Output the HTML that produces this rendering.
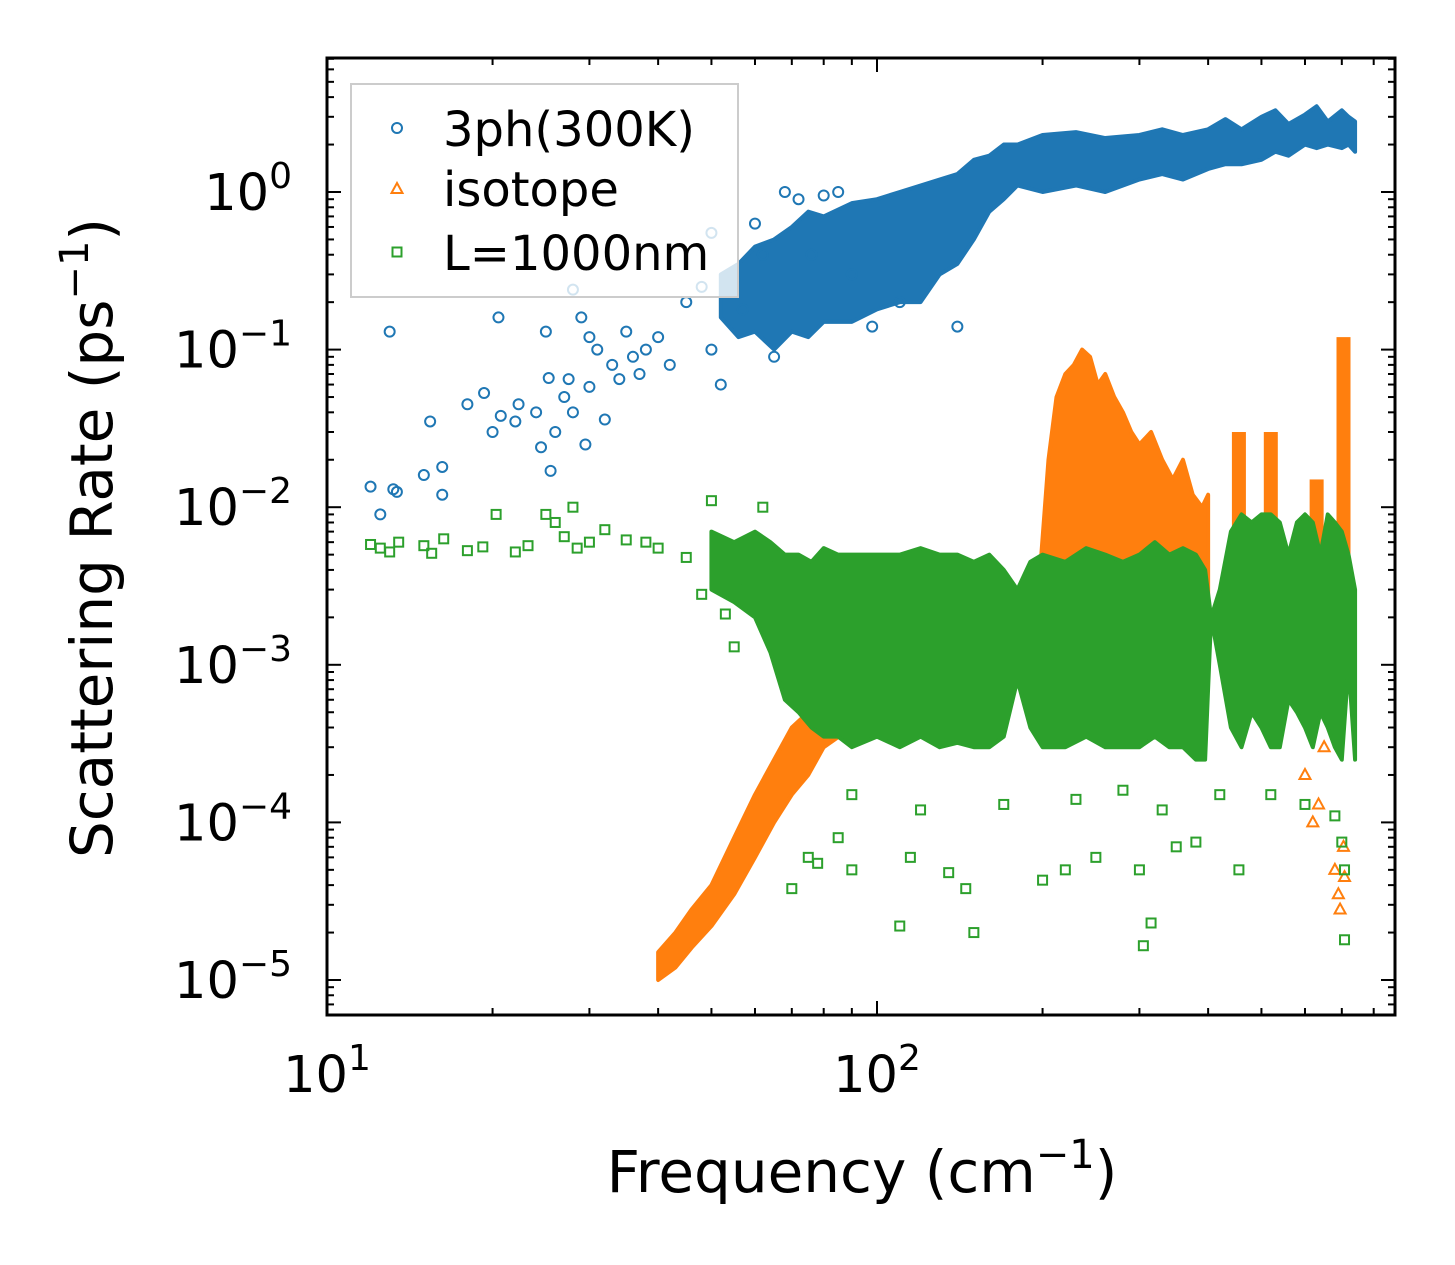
<!DOCTYPE html>
<html><head><meta charset="utf-8"><style>
body{margin:0;background:#fff}
svg text{font-family:"DejaVu Sans","Liberation Sans",sans-serif;fill:#000}
</style></head><body>
<svg id="chart" width="1455" height="1265" viewBox="0 0 1455 1265" xmlns="http://www.w3.org/2000/svg" style="position:absolute;left:0;top:0">
<rect width="1455" height="1265" fill="#fff"/>
<g id="plot"></g>
<g id="axes"></g>
</svg>
<script>
// ---- data ----
const blueSparseF=[12,12.5,13,13.2,13.4,15,15.4,16.2,16.2,18,19.3,20,20.5,20.7,22,22.3,24,24.5,25,25.3,25.5,26,27,27.5,28,28,29,29.5,30,30,31,32,33,34,35,36,37,38,40,42,45,48,50,50,52,55,57,60,62,65,68,72,76,80,85,90,98,110,140];
const blueSparseV=[0.0135,0.009,0.13,0.013,0.0125,0.016,0.035,0.012,0.018,0.045,0.053,0.03,0.16,0.038,0.035,0.045,0.04,0.024,0.13,0.066,0.017,0.03,0.05,0.065,0.24,0.04,0.16,0.025,0.058,0.12,0.1,0.036,0.08,0.065,0.13,0.09,0.07,0.1,0.12,0.08,0.2,0.25,0.55,0.1,0.06,0.28,0.18,0.63,0.4,0.09,1.0,0.9,0.4,0.95,1.0,0.3,0.14,0.2,0.14];
const blueEnvF=[52,56,60,65,70,75,80,90,100,110,120,130,140,150,160,170,180,200,230,260,300,330,360,400,430,460,500,530,560,600,630,660,700,720,740];
const blueLo=[0.16,0.12,0.13,0.1,0.13,0.12,0.15,0.15,0.18,0.2,0.2,0.3,0.35,0.5,0.75,0.9,1.1,1.0,1.1,1.0,1.2,1.3,1.2,1.4,1.5,1.5,1.6,1.8,1.7,2.0,1.9,2.0,1.9,2.0,1.8];
const blueHi=[0.3,0.35,0.45,0.5,0.6,0.75,0.7,0.85,0.9,1.0,1.1,1.2,1.3,1.6,1.7,2.0,2.0,2.3,2.4,2.2,2.3,2.5,2.3,2.5,2.9,2.5,3.0,3.3,2.7,3.1,3.5,2.8,3.3,3.0,2.8];

const orEnvF=[40,43,46,50,55,60,65,70,75,80,90];
const orLo=[1e-5,1.2e-5,1.6e-5,2.2e-5,3.5e-5,6e-5,1e-4,1.5e-4,2e-4,3e-4,4e-4];
const orHi=[1.5e-5,2e-5,2.8e-5,4e-5,8e-5,1.5e-4,2.5e-4,4e-4,5e-4,7e-4,1e-3];
const orPeakF=[198,205,212,220,228,236,244,252,260,270,280,290,300,315,330,345,360,375,390,400];
const orPeakLo=[2e-3,3e-3,4e-3,4e-3,5e-3,5e-3,4e-3,4e-3,4e-3,3e-3,3e-3,3e-3,3e-3,2.5e-3,2.5e-3,2e-3,2e-3,2e-3,2e-3,2e-3];
const orPeakHi=[4e-3,0.02,0.05,0.07,0.08,0.1,0.09,0.06,0.07,0.05,0.04,0.03,0.025,0.03,0.02,0.015,0.02,0.012,0.01,0.012];
const orSpikeF=[455,520,630,705];
const orSpikeLo=[4e-3,3e-3,2e-3,1e-3];
const orSpikeHi=[0.03,0.03,0.015,0.12];
const orSparseF=[620,635,680,690,695,705,708,600,650,690];
const orSparseV=[1e-4,1.3e-4,5e-5,3.5e-5,2.8e-5,7e-5,4.5e-5,2e-4,3e-4,4e-4];

const grEnvF=[50,55,60,64,68,72,76,80,85,90,100,110,120,130,140,150,160,170,180,190,200,220,240,260,280,300,320,340,360,380,395,405,420,440,460,480,500,520,540,560,580,600,620,640,660,680,700,720,740];
const grLo=[3e-3,2.5e-3,2e-3,1.2e-3,6e-4,5e-4,4e-4,3.5e-4,3.5e-4,3e-4,3.5e-4,3e-4,3.5e-4,3e-4,3.2e-4,3e-4,3e-4,3.5e-4,8e-4,4e-4,3e-4,3e-4,3.5e-4,3e-4,3e-4,3e-4,3.5e-4,3e-4,3e-4,2.5e-4,2.5e-4,2e-3,1e-3,4e-4,3e-4,5e-4,4e-4,3e-4,3e-4,6e-4,5e-4,4e-4,3e-4,5e-4,4e-4,3e-4,2.5e-4,1e-3,2.5e-4];
const grHi=[7e-3,6e-3,7e-3,6e-3,5e-3,5e-3,4.5e-3,5.5e-3,5e-3,5e-3,5e-3,5e-3,5.5e-3,5e-3,5e-3,4.5e-3,5e-3,4e-3,3e-3,4.5e-3,5e-3,4.5e-3,5.5e-3,5e-3,4.5e-3,5e-3,6e-3,5e-3,5.5e-3,5e-3,4e-3,2e-3,3e-3,7e-3,9e-3,8e-3,9e-3,9e-3,8e-3,5e-3,8e-3,9e-3,8e-3,5e-3,9e-3,8e-3,7e-3,5e-3,3e-3];
const grSparseF=[12,12.5,13,13.5,15,15.5,16.3,18,19.2,20.3,22,23.2,25,26,27,28,28.5,30,32,35,38,40,45,48,50,53,55,58,62,66,70,75,78,85,90,110,115,135,145,150,200,220,250,300,305,315,350,380,455,708,708,700,90,120,170,230,280,330,420,520,600,680];
const grSparseV=[0.0058,0.0055,0.0052,0.006,0.0057,0.0051,0.0063,0.0053,0.0056,0.009,0.0052,0.0057,0.009,0.008,0.0065,0.01,0.0055,0.006,0.0072,0.0062,0.006,0.0055,0.0048,0.0028,0.011,0.0021,0.0013,0.0035,0.01,0.0042,3.8e-5,6e-5,5.5e-5,8e-5,5e-5,2.2e-5,6e-5,4.8e-5,3.8e-5,2e-5,4.3e-5,5e-5,6e-5,5e-5,1.65e-5,2.3e-5,7e-5,7.5e-5,5e-5,1.8e-5,5e-5,7.5e-5,1.5e-4,1.2e-4,1.3e-4,1.4e-4,1.6e-4,1.2e-4,1.5e-4,1.5e-4,1.3e-4,1.1e-4];

const xTickLabels=["10","10"];const xTickExp=["1","2"];
const yTickVals=[0,-1,-2,-3,-4,-5];

// ---- axes ----
const X0=327,X1=1395,Y0=58,Y1=1015;
const xs=f=>327+550*Math.log10(f/10);
const ys=v=>192-157.6*Math.log10(v);
const NS="http://www.w3.org/2000/svg";
const plot=document.getElementById('plot'),axes=document.getElementById('axes');
function mk(tag,attrs,parent){const e=document.createElementNS(NS,tag);for(const k in attrs)e.setAttribute(k,attrs[k]);parent.appendChild(e);return e;}
const C={b:'#1f77b4',o:'#ff7f0e',g:'#2ca02c'};

function env(F,lo,hi,col,name){
  let pts=F.map((f,i)=>xs(f)+','+ys(hi[i]));
  for(let i=F.length-1;i>=0;i--)pts.push(xs(F[i])+','+ys(lo[i]));
  const p=mk('polygon',{points:pts.join(' '),fill:col,stroke:col,'stroke-width':4,'stroke-linejoin':'round'},plot);
  
  
}
function spikes(F,lo,hi,col,name){
  F.forEach((f,i)=>{
    const p=mk('rect',{x:xs(f)-7,y:ys(hi[i]),width:14,height:ys(lo[i])-ys(hi[i]),fill:col},plot);
    
    
  });
}
function marker(type,x,y,col,parent){
  let e;
  if(type==='c')e=mk('circle',{cx:x,cy:y,r:5,fill:'none',stroke:col,'stroke-width':2},parent);
  else if(type==='t')e=mk('polygon',{points:`${x},${y-6} ${x-5.5},${y+4} ${x+5.5},${y+4}`,fill:'none',stroke:col,'stroke-width':2},parent);
  else e=mk('rect',{x:x-4.5,y:y-4.5,width:9,height:9,fill:'none',stroke:col,'stroke-width':2},parent);
  return e;
}
function sparse(F,V,type,col,name){
  F.forEach((f,i)=>{
    const e=marker(type,xs(f),ys(V[i]),col,plot);
    
    
  });
}
env(blueEnvF,blueLo,blueHi,C.b,'3ph-dense-cloud');
sparse(blueSparseF,blueSparseV,'c',C.b,'3ph-point');
env(orEnvF,orLo,orHi,C.o,'isotope-low-branch');
env(orPeakF,orPeakLo,orPeakHi,C.o,'isotope-peak-cloud');
spikes(orSpikeF,orSpikeLo,orSpikeHi,C.o,'isotope-spike');
sparse(orSparseF,orSparseV,'t',C.o,'isotope-point');
env(grEnvF,grLo,grHi,C.g,'boundary-dense-cloud');
sparse(grSparseF,grSparseV,'s',C.g,'boundary-point');

const fr=mk('rect',{x:X0,y:Y0,width:X1-X0,height:Y1-Y0,fill:'none',stroke:'#000','stroke-width':3},axes);


for(let d=1;d<=2;d++){for(let m=1;m<=9;m++){const f=m*Math.pow(10,d);const x=xs(f);if(x<X0-1||x>X1+1)continue;const L=m===1?14:7;
  mk('line',{x1:x,y1:Y1,x2:x,y2:Y1-L,stroke:'#000','stroke-width':2},axes);
  mk('line',{x1:x,y1:Y0,x2:x,y2:Y0+L,stroke:'#000','stroke-width':2},axes);}}
xTickLabels.forEach((l,i)=>{
  const t=mk('text',{x:xs(Math.pow(10,i+1)),y:1092,'font-size':51,'text-anchor':'middle'},axes);
  t.innerHTML=l+'<tspan dy="-22" font-size="36">'+xTickExp[i]+'</tspan>';
  
  
});
for(let d=-6;d<=0;d++){for(let m=1;m<=9;m++){const v=m*Math.pow(10,d);const y=ys(v);if(y<Y0-1||y>Y1+1)continue;const L=m===1?14:7;
  mk('line',{x1:X0,y1:y,x2:X0+L,y2:y,stroke:'#000','stroke-width':2},axes);
  mk('line',{x1:X1,y1:y,x2:X1-L,y2:y,stroke:'#000','stroke-width':2},axes);}}
yTickVals.forEach(e=>{
  const t=mk('text',{x:292,y:ys(Math.pow(10,e))+18,'font-size':51,'text-anchor':'end'},axes);
  t.innerHTML='10<tspan dy="-22" font-size="36">'+(e===0?'0':'\u2212'+(-e))+'</tspan>';
  
  
});
</script>
<svg style="position:absolute;left:0;top:0" width="1455" height="1265">
<text x="862" y="1192" font-size="58" text-anchor="middle" style="font-family:'DejaVu Sans','Liberation Sans',sans-serif">Frequency (cm<tspan dy="-24" font-size="40">−1</tspan><tspan dy="24">)</tspan></text>
<text transform="translate(112,538) rotate(-90)" font-size="58" text-anchor="middle" style="font-family:'DejaVu Sans','Liberation Sans',sans-serif">Scattering Rate (ps<tspan dy="-24" font-size="40">−1</tspan><tspan dy="24">)</tspan></text>
<g style="font-family:'DejaVu Sans','Liberation Sans',sans-serif">
<rect x="351" y="84" width="387" height="213" fill="#fff" fill-opacity="0.8" stroke="#ccc" stroke-width="2"/>
<g><circle cx="397" cy="128" r="5" fill="none" stroke="#1f77b4" stroke-width="2"/><text x="443" y="146" font-size="48">3ph(300K)</text></g>
<g><polygon points="397,183 391.5,193 402.5,193" fill="none" stroke="#ff7f0e" stroke-width="2"/><text x="443" y="206" font-size="48">isotope</text></g>
<g><rect x="392.5" y="247.5" width="9" height="9" fill="none" stroke="#2ca02c" stroke-width="2"/><text x="443" y="270" font-size="48">L=1000nm</text></g>
</g>
</svg>
</body></html>
